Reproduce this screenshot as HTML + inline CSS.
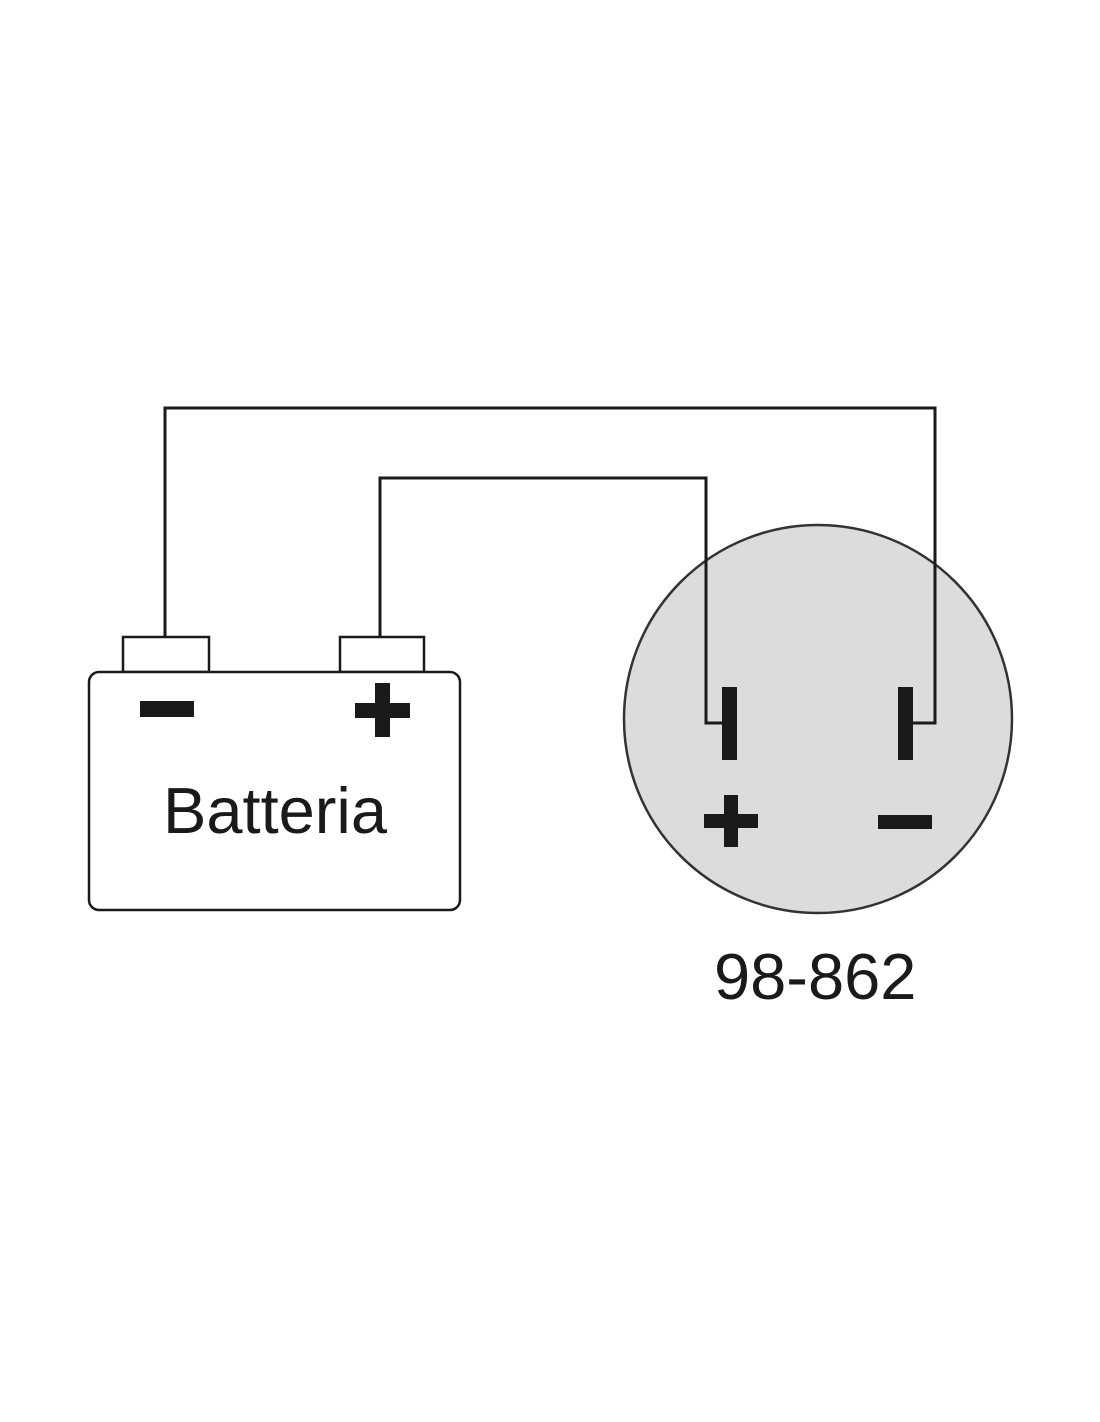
<!DOCTYPE html>
<html><head><style>
html,body{margin:0;padding:0;background:#fff;}
svg{display:block;}
text{font-family:"Liberation Sans",Arial,sans-serif;fill:#1a1a1a;}
</style></head><body>
<svg width="1100" height="1422" viewBox="0 0 1100 1422" xmlns="http://www.w3.org/2000/svg">
<rect width="1100" height="1422" fill="#fff"/>
<circle cx="818" cy="719" r="194" fill="#dcdcdc" stroke="#333" stroke-width="2.5"/>
<g fill="none" stroke="#1a1a1a" stroke-width="3">
<polyline points="165,637 165,408 935,408 935,723 910,723"/>
<polyline points="380,637 380,478 706,478 706,723 724,723"/>
<rect x="123" y="637" width="86" height="35" fill="#fff" stroke-width="2.5"/>
<rect x="340" y="637" width="84" height="35" fill="#fff" stroke-width="2.5"/>
<rect x="89" y="672" width="371" height="238" rx="10" fill="#fff" stroke-width="2.5"/>
</g>
<g fill="#1a1a1a">
<rect x="722" y="687" width="15" height="73"/>
<rect x="898" y="687" width="15" height="73"/>
<rect x="704" y="814" width="54" height="14"/>
<rect x="724" y="795" width="14" height="52"/>
<rect x="878" y="815" width="54" height="14"/>
<rect x="140" y="701" width="54" height="16"/>
<rect x="355" y="703" width="55" height="15"/>
<rect x="375" y="683" width="15" height="54"/>
</g>
<text x="163" y="833" font-size="65">Batteria</text>
<text x="714" y="999" font-size="65">98-862</text>
</svg>
</body></html>
